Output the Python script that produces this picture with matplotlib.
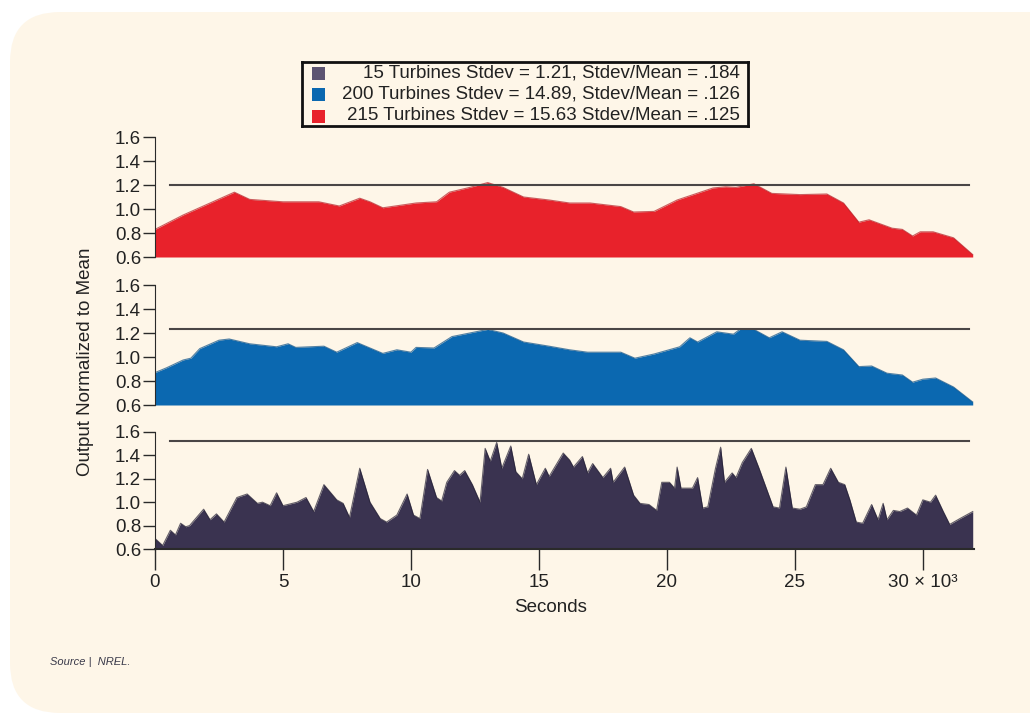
import matplotlib.pyplot as plt
from matplotlib.patches import FancyBboxPatch, Rectangle

plt.rcParams['font.family'] = ['Liberation Sans', 'DejaVu Sans']

# 215 turbines (top panel)
x_215 = [0, 1.1, 3.1, 3.7, 5.0, 6.4, 7.2, 8.0, 8.4, 8.9, 10.2, 11.0, 11.5, 12.3, 13.0,
         13.6, 14.4, 15.4, 16.2, 17.0, 18.2, 18.7, 19.5, 20.4, 21.8, 22.3, 22.7, 23.4,
         24.1, 25.2, 26.25, 26.9, 27.5, 27.9, 28.8, 29.2, 29.6, 29.9, 30.4, 31.2, 31.95]
y_215 = [0.83, 0.95, 1.14, 1.08, 1.06, 1.06, 1.025, 1.09, 1.06, 1.01, 1.05, 1.06, 1.14, 1.18, 1.22,
         1.18, 1.10, 1.075, 1.05, 1.05, 1.02, 0.975, 0.98, 1.075, 1.175, 1.185, 1.18, 1.21,
         1.13, 1.12, 1.125, 1.05, 0.89, 0.91, 0.84, 0.83, 0.775, 0.81, 0.81, 0.76, 0.62]

# 200 turbines (middle panel)
x_200 = [0, 0.45, 1.1, 1.4, 1.75, 2.5, 2.9, 3.7, 4.75, 5.2, 5.5, 6.6, 7.1, 7.9, 8.9, 9.45,
         10.0, 10.2, 10.9, 11.6, 13.0, 13.6, 14.4, 15.4, 16.2, 16.9, 18.2, 18.75, 19.5,
         20.5, 20.9, 21.2, 21.95, 22.6, 22.85, 23.4, 24.0, 24.5, 25.2, 26.25, 26.9, 27.5,
         28.0, 28.6, 29.2, 29.6, 30.0, 30.5, 31.2, 31.95]
y_200 = [0.87, 0.91, 0.975, 0.99, 1.07, 1.14, 1.15, 1.11, 1.085, 1.11, 1.08, 1.09, 1.04, 1.12, 1.03, 1.06,
         1.04, 1.08, 1.075, 1.17, 1.23, 1.20, 1.125, 1.09, 1.06, 1.04, 1.04, 0.99, 1.025,
         1.085, 1.16, 1.125, 1.21, 1.19, 1.23, 1.23, 1.16, 1.21, 1.14, 1.13, 1.06, 0.92,
         0.925, 0.865, 0.85, 0.79, 0.815, 0.825, 0.75, 0.625]

# 15 turbines (bottom panel)
x_15 = [0, 0.3, 0.6, 0.8, 1.0, 1.2, 1.35, 1.9, 2.15, 2.4, 2.7, 3.2, 3.6, 4.0, 4.2, 4.5,
        4.75, 5.0, 5.55, 5.9, 6.2, 6.6, 7.1, 7.35, 7.6, 8.0, 8.4, 8.8, 9.05, 9.45, 9.85,
        10.1, 10.35, 10.65, 11.0, 11.2, 11.4, 11.7, 11.9, 12.1, 12.4, 12.7, 12.9, 13.1,
        13.35, 13.55, 13.9, 14.1, 14.35, 14.6, 14.9, 15.25, 15.4, 15.95, 16.2, 16.35,
        16.7, 16.9, 17.1, 17.5, 17.8, 17.9, 18.35, 18.7, 18.95, 19.3, 19.6, 19.8, 20.1,
        20.3, 20.4, 20.55, 21.0, 21.2, 21.4, 21.6, 21.9, 22.1, 22.25, 22.55, 22.7, 22.95,
        23.3, 23.6, 24.15, 24.4, 24.65, 24.9, 25.2, 25.45, 25.8, 26.1, 26.4, 26.7, 26.95,
        27.15, 27.4, 27.65, 28.0, 28.25, 28.45, 28.6, 28.85, 29.1, 29.4, 29.75, 30.0,
        30.3, 30.5, 30.8, 31.05, 31.45, 31.95]
y_15 = [0.69, 0.63, 0.76, 0.72, 0.82, 0.79, 0.80, 0.94, 0.85, 0.90, 0.83, 1.04, 1.07, 0.99, 1.00, 0.97,
        1.08, 0.97, 1.00, 1.04, 0.92, 1.15, 1.02, 0.99, 0.87, 1.29, 1.00, 0.86, 0.83, 0.89, 1.07,
        0.89, 0.86, 1.28, 1.04, 1.01, 1.17, 1.27, 1.23, 1.27, 1.15, 1.00, 1.46, 1.35,
        1.51, 1.29, 1.48, 1.26, 1.20, 1.41, 1.15, 1.29, 1.22, 1.42, 1.36, 1.30,
        1.39, 1.25, 1.33, 1.21, 1.29, 1.17, 1.30, 1.06, 0.99, 0.98, 0.93, 1.17, 1.17,
        1.12, 1.30, 1.12, 1.12, 1.21, 0.95, 0.96, 1.29, 1.47, 1.17, 1.25, 1.21, 1.34,
        1.46, 1.29, 0.96, 0.95, 1.30, 0.95, 0.94, 0.96, 1.15, 1.15, 1.29, 1.17, 1.15,
        1.02, 0.83, 0.82, 0.98, 0.85, 0.99, 0.85, 0.93, 0.92, 0.95, 0.89, 1.02,
        1.00, 1.06, 0.92, 0.81, 0.86, 0.92]

ref_levels = [1.2, 1.233, 1.52]   # horizontal reference lines, top to bottom
ref_span = [0.6, 31.8]

labels = ['15 Turbines Stdev = 1.21, Stdev/Mean = .184',
          '200 Turbines Stdev = 14.89, Stdev/Mean = .126',
          '215 Turbines Stdev = 15.63 Stdev/Mean = .125']
legend_colors = ['#5d5472', '#0b68b0', '#e8222b']

yticks = [0.6, 0.8, 1.0, 1.2, 1.4, 1.6]
xticks = [0, 5, 10, 15, 20, 25, 30]
xticklabels = ['0', '5', '10', '15', '20', '25', '30 \u00d7 10\u00b3']

cream = '#fef6e8'
W, H = 1030, 713
fs = 13.5

fig = plt.figure(figsize=(W / 100, H / 100), dpi=100)
fig.patch.set_facecolor('white')
fig.add_artist(FancyBboxPatch((0.10, 0.0), 11.0, 7.01, boxstyle='round,pad=0,rounding_size=0.5',
                              transform=fig.dpi_scale_trans, facecolor=cream, edgecolor='none', zorder=0))


def px_axes(left, top, right, bottom):
    return fig.add_axes([left / W, 1 - bottom / H, (right - left) / W, (bottom - top) / H])


panels = [
    (px_axes(155, 137, 974, 257), x_215, y_215, '#e8222b', '#b51d25', ref_levels[0]),
    (px_axes(155, 285, 974, 405), x_200, y_200, '#0b68b0', '#0a4f86', ref_levels[1]),
    (px_axes(155, 432, 974, 549), x_15, y_15, '#3a3350', '#231f33', ref_levels[2]),
]

for i, (ax, xs, ys, fc, ec, ref) in enumerate(panels):
    ax.set_facecolor('none')
    ax.fill_between(xs, 0.6, ys, color=fc, lw=0)
    ax.plot(xs, ys, color=ec, lw=0.8, alpha=0.7)
    ax.plot(ref_span, [ref, ref], color='#4a4646', lw=1.5)
    ax.set_xlim(0, 32)
    ax.set_ylim(0.6, 1.6)
    ax.set_yticks(yticks)
    ax.set_yticklabels([f'{t:.1f}' for t in yticks])
    for s in ['top', 'right']:
        ax.spines[s].set_visible(False)
    ax.spines['left'].set_color('#2a2a2a')
    ax.tick_params(axis='y', direction='out', length=9, width=1, color='#2a2a2a',
                   labelsize=fs, pad=1, labelcolor='#222222')
    if i < 2:
        ax.spines['bottom'].set_visible(False)
        ax.set_xticks([])
    else:
        ax.spines['bottom'].set_color('#2a2a2a')
        ax.spines['bottom'].set_linewidth(1.5)
        ax.set_xticks(xticks)
        ax.set_xticklabels(xticklabels)
        ax.tick_params(axis='x', direction='out', length=15, width=1, color='#2a2a2a',
                       labelsize=fs, pad=3, labelcolor='#222222')

fig.text(85 / W, 1 - 362 / H, 'Output Normalized to Mean', rotation=90, ha='center', va='center',
         fontsize=fs, color='#222222')
fig.text(551 / W, 1 - 608 / H, 'Seconds', ha='center', va='center', fontsize=fs, color='#222222')
fig.text(50 / W, 1 - 662 / H, 'Source |  NREL.', ha='left', va='center', fontsize=8,
         style='italic', color='#3a3a4a')

# legend box drawn by hand so the labels are right-aligned like the original
lax = px_axes(302, 62, 748, 126)
lax.set_xlim(0, 446)
lax.set_ylim(64, 0)
lax.set_xticks([])
lax.set_yticks([])
lax.set_facecolor(cream)
for s in lax.spines.values():
    s.set_linewidth(2)
    s.set_color('#111111')
row_y = [11, 32, 54]
for ry, lab, col in zip(row_y, labels, legend_colors):
    lax.add_patch(Rectangle((10, ry - 6.5), 13, 13, facecolor=col, edgecolor='none'))
    lax.text(438, ry, lab, ha='right', va='center', fontsize=fs, color='#222222')

fig.savefig('out.png', dpi=100)
